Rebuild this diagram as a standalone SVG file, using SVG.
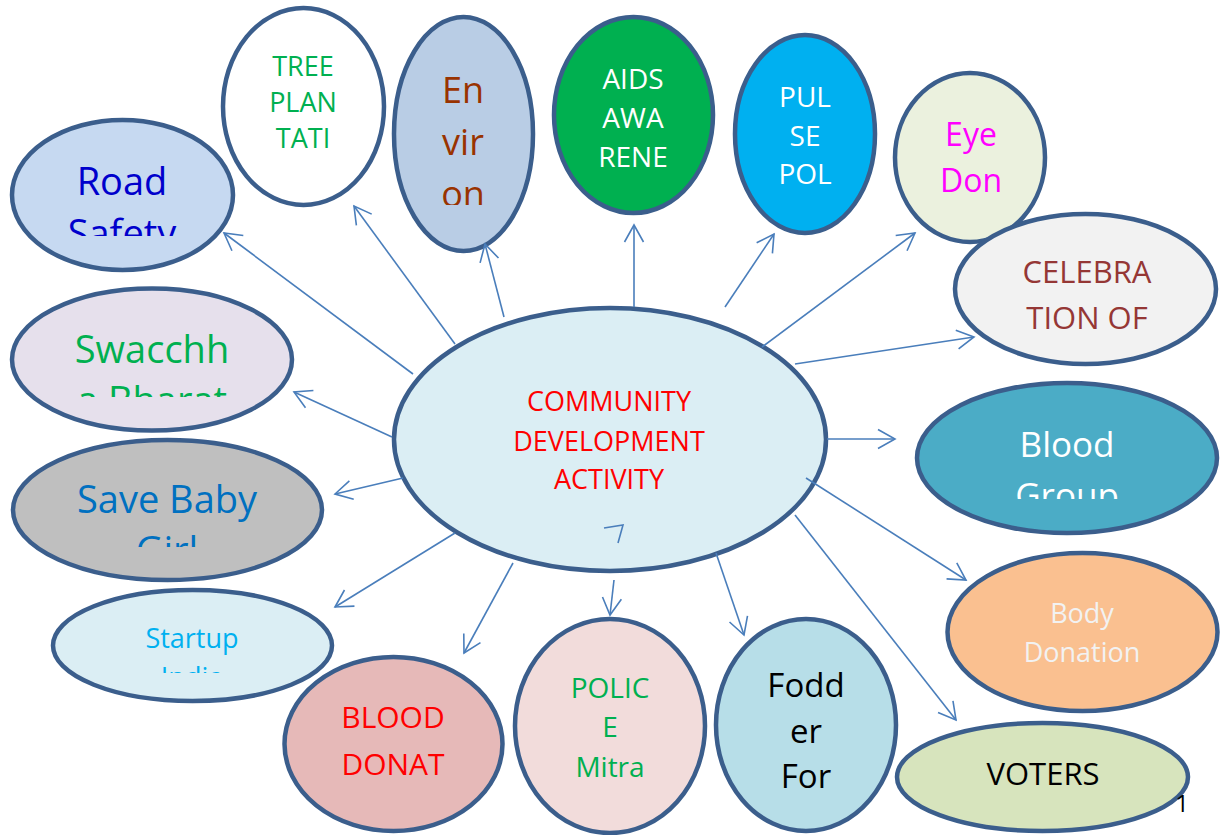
<svg xmlns="http://www.w3.org/2000/svg" width="1225" height="835" viewBox="0 0 1225 835">
<style>
.n{stroke:#3b5e8c;stroke-width:4.5}
text{font-family:"Open Sans","Liberation Sans",sans-serif;text-anchor:middle}
.c line,.c polyline{stroke:#4a7ebb;stroke-width:1.6;fill:none}
.c line{marker-end:url(#ah)}
</style>
<defs>
<marker id="ah" markerUnits="userSpaceOnUse" markerWidth="22" markerHeight="22" viewBox="0 0 22 22" refX="20" refY="11" orient="auto">
<path d="M3,1.5 L20,11 L3,20.5" fill="none" stroke="#4a7ebb" stroke-width="1.6"/>
</marker>
<clipPath id="cRoad"><rect x="0" y="0" width="400" height="236"/></clipPath>
<clipPath id="cSw"><rect x="0" y="0" width="400" height="397"/></clipPath>
<clipPath id="cSave"><rect x="0" y="0" width="400" height="547"/></clipPath>
<clipPath id="cStart"><rect x="0" y="0" width="400" height="673"/></clipPath>
<clipPath id="cBG"><rect x="800" y="0" width="425" height="499"/></clipPath>
<clipPath id="cEnv"><rect x="380" y="0" width="170" height="205"/></clipPath>
</defs>
<rect width="1225" height="835" fill="#ffffff"/>

<g id="road-safety">
<ellipse class="n" cx="122.5" cy="195" rx="110.5" ry="75" fill="#c6d9f1"/>
<text font-size="38" fill="#0000cc" clip-path="url(#cRoad)"><tspan x="122" y="195">Road</tspan><tspan x="122" y="247">Safety</tspan></text>
</g>
<g id="tree-plantation">
<ellipse class="n" cx="303.5" cy="106.5" rx="80.5" ry="98.5" fill="#ffffff"/>
<text font-size="27" fill="#00b050"><tspan x="303" y="76">TREE</tspan><tspan x="303" y="112">PLAN</tspan><tspan x="303" y="148">TATI</tspan></text>
</g>
<g id="environ">
<ellipse class="n" cx="463.5" cy="134" rx="69.5" ry="117" fill="#b9cde5"/>
<text font-size="36" fill="#993300" clip-path="url(#cEnv)"><tspan x="463" y="103">En</tspan><tspan x="463" y="155">vir</tspan><tspan x="463" y="207">on</tspan></text>
</g>
<g id="aids">
<ellipse class="n" cx="633.5" cy="115" rx="79.5" ry="98" fill="#00b050"/>
<text font-size="28" fill="#ffffff"><tspan x="633" y="89">AIDS</tspan><tspan x="633" y="128">AWA</tspan><tspan x="633" y="167">RENE</tspan></text>
</g>
<g id="pulse-polio">
<ellipse class="n" cx="805" cy="134" rx="70" ry="99" fill="#00b0f0"/>
<text font-size="28" fill="#ffffff"><tspan x="805" y="107">PUL</tspan><tspan x="805" y="146">SE</tspan><tspan x="805" y="184">POL</tspan></text>
</g>
<g id="eye-donation">
<ellipse class="n" cx="970" cy="157.5" rx="75" ry="84.5" fill="#ebf1de"/>
<text font-size="32" fill="#ff00ff"><tspan x="971" y="146">Eye</tspan><tspan x="971" y="192">Don</tspan></text>
</g>
<g id="celebration">
<ellipse class="n" cx="1085.5" cy="289" rx="130.5" ry="75" fill="#f2f2f2"/>
<text font-size="31" fill="#953735"><tspan x="1087" y="283">CELEBRA</tspan><tspan x="1087" y="329">TION OF</tspan></text>
</g>
<g id="blood-group">
<ellipse class="n" cx="1067" cy="458" rx="150" ry="75" fill="#4bacc6"/>
<text font-size="35" fill="#ffffff" clip-path="url(#cBG)"><tspan x="1067" y="457">Blood</tspan><tspan x="1067" y="508">Group</tspan></text>
</g>
<g id="body-donation">
<ellipse class="n" cx="1082.5" cy="632" rx="135" ry="79" fill="#fac090"/>
<text font-size="27" fill="#f2f2f2"><tspan x="1082" y="623">Body</tspan><tspan x="1082" y="662">Donation</tspan></text>
</g>
<g id="voters">
<ellipse class="n" cx="1042.5" cy="777" rx="145.5" ry="54" fill="#d7e4bd"/>
<text font-size="31" fill="#000000" x="1043" y="785">VOTERS</text>
</g>
<g id="fodder">
<ellipse class="n" cx="806" cy="725" rx="90" ry="106" fill="#b7dee8"/>
<text font-size="33" fill="#000000"><tspan x="806" y="697">Fodd</tspan><tspan x="806" y="743">er</tspan><tspan x="806" y="788">For</tspan></text>
</g>
<g id="police-mitra">
<ellipse class="n" cx="610" cy="726" rx="95" ry="107" fill="#f2dcdb"/>
<text font-size="28" fill="#00b050"><tspan x="610" y="698">POLIC</tspan><tspan x="610" y="737">E</tspan><tspan x="610" y="777">Mitra</tspan></text>
</g>
<g id="startup-india">
<ellipse class="n" cx="192.5" cy="645.5" rx="139.5" ry="55.5" fill="#dbeef4"/>
<text font-size="27" fill="#00b0f0" clip-path="url(#cStart)"><tspan x="192" y="648">Startup</tspan><tspan x="192" y="687">India</tspan></text>
</g>
<g id="blood-donation">
<ellipse class="n" cx="393.5" cy="744" rx="109" ry="87" fill="#e6b9b8"/>
<text font-size="30" fill="#ff0000"><tspan x="393" y="728">BLOOD</tspan><tspan x="393" y="775">DONAT</tspan></text>
</g>
<g id="save-baby-girl">
<ellipse class="n" cx="167.5" cy="510" rx="154.5" ry="70" fill="#bfbfbf"/>
<text font-size="38" fill="#0070c0" clip-path="url(#cSave)"><tspan x="167" y="513">Save Baby</tspan><tspan x="167" y="564">Girl</tspan></text>
</g>
<g id="swacchh-bharat">
<ellipse class="n" cx="152" cy="359.5" rx="140" ry="71" fill="#e6e0ec"/>
<text font-size="38" fill="#00b050" clip-path="url(#cSw)"><tspan x="152" y="363">Swacchh</tspan><tspan x="152" y="414">a Bharat</tspan></text>
</g>
<g id="center">
<ellipse class="n" cx="610" cy="439.5" rx="216" ry="131.5" fill="#dbeef4"/>
<text font-size="27" fill="#ff0000"><tspan x="609" y="411">COMMUNITY</tspan><tspan x="609" y="451">DEVELOPMENT</tspan><tspan x="609" y="489">ACTIVITY</tspan></text>
</g>

<g id="connectors" class="c">
<line x1="413" y1="374" x2="224" y2="233"/>
<line x1="455" y1="344" x2="354" y2="206"/>
<line x1="504" y1="317" x2="485" y2="244"/>
<line x1="634" y1="307" x2="634" y2="225"/>
<line x1="725" y1="307" x2="774" y2="234"/>
<line x1="762" y1="347" x2="915" y2="233"/>
<line x1="795" y1="364" x2="974" y2="337"/>
<line x1="392" y1="437" x2="294" y2="392"/>
<line x1="827" y1="439" x2="895" y2="439"/>
<line x1="806" y1="478" x2="966" y2="580"/>
<line x1="795" y1="515" x2="956" y2="720"/>
<line x1="716" y1="553" x2="744" y2="635"/>
<line x1="614" y1="580" x2="610" y2="615"/>
<line x1="513" y1="563" x2="464" y2="653"/>
<line x1="455" y1="533" x2="335" y2="607"/>
<line x1="403" y1="478" x2="335" y2="494"/>
<polyline points="604,528 623,525 618,543"/>
</g>

<text font-size="24" fill="#000000" x="1182" y="812">1</text>
</svg>
